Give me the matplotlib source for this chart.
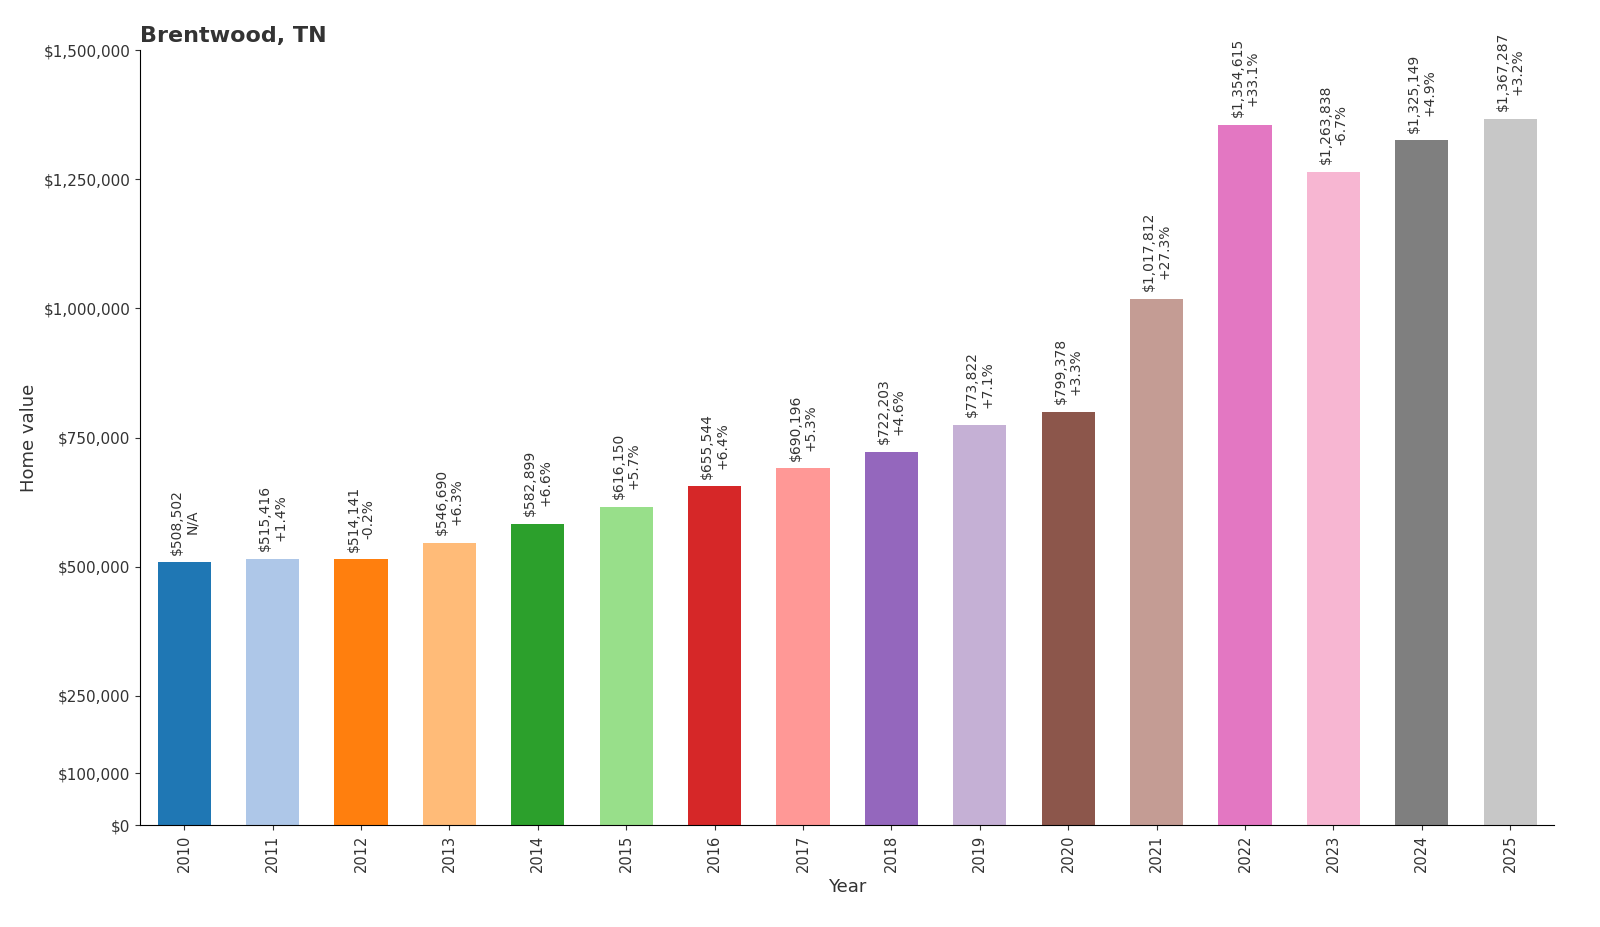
import matplotlib
matplotlib.use("Agg")
import matplotlib.pyplot as plt

YEARS = [str(y) for y in range(2010, 2026)]
VALUES = [508502, 515416, 514141, 546690, 582899, 616150, 655544, 690196,
          722203, 773822, 799378, 1017812, 1354615, 1263838, 1325149, 1367287]
CHANGES = ["N/A", "+1.4%", "-0.2%", "+6.3%", "+6.6%", "+5.7%", "+6.4%", "+5.3%",
           "+4.6%", "+7.1%", "+3.3%", "+27.3%", "+33.1%", "-6.7%", "+4.9%", "+3.2%"]
YTICKS = [0, 100000, 250000, 500000, 750000, 1000000, 1250000, 1500000]

colors = plt.get_cmap("tab20").colors

fig = plt.figure(figsize=(16, 9.27), dpi=100)
ax = fig.add_axes([0.0875, 0.11, 0.884, 0.836])

x = range(len(YEARS))
ax.bar(x, VALUES, width=0.6, color=colors[:len(YEARS)])
for i, (v, c) in enumerate(zip(VALUES, CHANGES)):
    ax.text(i, v + 15000, f"${v:,}\n{c}", rotation=90, ha="center", va="bottom",
            fontsize=10, color="#333333", linespacing=1.1)

ax.set_xlim(-0.5, len(YEARS) - 0.5)
ax.set_ylim(0, 1500000)
ax.set_xticks(list(x))
ax.set_xticklabels(YEARS, rotation=90, fontsize=10.5)
ax.set_yticks(YTICKS)
ax.set_yticklabels([f"${t:,}" for t in YTICKS], fontsize=11)
ax.tick_params(colors="#333333", labelcolor="#333333")
ax.set_xlabel("Year", fontsize=13, color="#333333")
ax.set_ylabel("Home value", fontsize=13, color="#333333")
ax.set_title("Brentwood, TN", loc="left", fontsize=16, fontweight="bold", color="#333333")
for s in ("top", "right"):
    ax.spines[s].set_visible(False)

fig.savefig("out.png")
